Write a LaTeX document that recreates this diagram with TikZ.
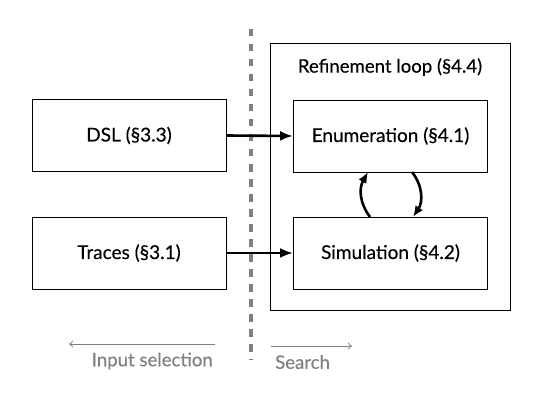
\documentclass[tikz,border=0pt]{standalone}
\usepackage{fontspec}
\setmainfont{Lato}[FakeBold=0.3]
\usetikzlibrary{arrows.meta}
\definecolor{lgray}{RGB}{128,128,128}
\begin{document}
\begin{tikzpicture}[x=1pt,y=-1pt,
  box/.style={draw,line width=0.9pt,minimum width=194pt,minimum height=72pt,inner sep=0pt,font=\fontsize{19}{22}\selectfont},
  flow/.style={line width=2.6pt,-{Latex[length=13pt,width=10pt]}},
  loopar/.style={line width=2.6pt,-{Latex[length=11pt,width=9pt]}},
  dir/.style={draw=lgray,line width=0.8pt,-{To[length=4pt,width=7pt]}},
  lbl/.style={text=lgray,font=\fontsize{18.6}{22}\selectfont}]
\useasboundingbox (0,0) rectangle (540,406);
\node[draw,line width=0.8pt,minimum width=240pt,minimum height=267pt,inner sep=0pt] (outer) at (390,176.5) {};
\node[font=\fontsize{18.6}{22}\selectfont] (title) at (390,67) {Refinement loop (§4.4)};
\node[box] (dsl) at (129,135.5) {DSL (§3.3)};
\node[box] (tr) at (129,253) {Traces (§3.1)};
\node[box] (en) at (390.5,136) {Enumeration (§4.1)};
\node[box] (sim) at (390.5,253) {Simulation (§4.2)};
\coordinate (dtop) at (251,29);
\coordinate (dbot) at (251,360);
\draw[lgray,line width=3.2pt,dash pattern=on 7.5pt off 7.5pt] (dtop) -- (dbot);
\draw[flow] (dsl.east) -- (en.west);
\draw[flow] (tr.east) -- (sim.west);
\coordinate (la) at (370,217);
\coordinate (lb) at (368,172);
\coordinate (ra) at (412,172);
\coordinate (rb) at (413,217);
\draw[loopar] (la) .. controls (359,202) and (359,188) .. (lb);
\draw[loopar] (ra) .. controls (423,186) and (423,202) .. (rb);
\coordinate (ia) at (215,344);
\coordinate (ib) at (69,344);
\coordinate (sa) at (271,346);
\coordinate (sb) at (352,346);
\draw[dir] (ia) -- (ib);
\draw[dir] (sa) -- (sb);
\node[lbl,anchor=east,inner sep=0pt] (is) at (213,361) {Input selection};
\node[lbl,anchor=west,inner sep=0pt] (se) at (275,362) {Search};
\end{tikzpicture}
\end{document}
